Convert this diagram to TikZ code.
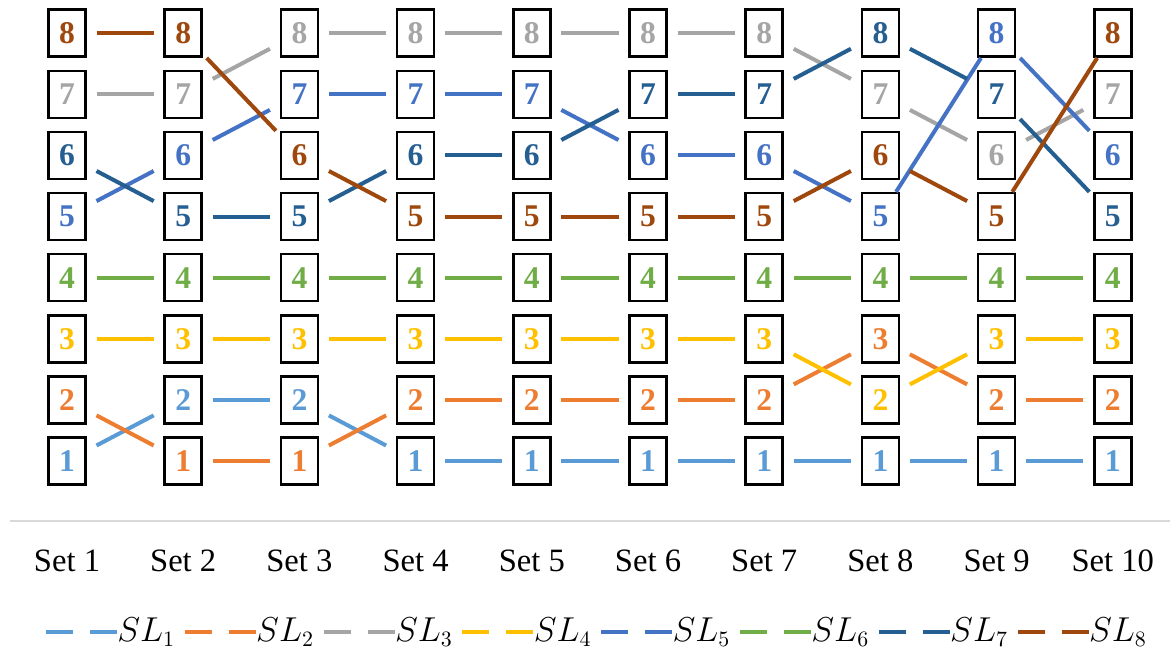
\documentclass[tikz,border=0pt]{standalone}
\usepackage{fontspec}
\setmainfont{Liberation Serif}

\definecolor{sl1}{HTML}{5B9BD5}
\definecolor{sl2}{HTML}{ED7D31}
\definecolor{sl3}{HTML}{A5A5A5}
\definecolor{sl4}{HTML}{FFC000}
\definecolor{sl5}{HTML}{4472C4}
\definecolor{sl6}{HTML}{70AD47}
\definecolor{sl7}{HTML}{255E91}
\definecolor{sl8}{HTML}{9E480E}

\begin{document}
\begin{tikzpicture}[x=0.5pt, y=-0.5pt,
    slbox/.style={draw, line width=1.3pt, fill=white, minimum width=18.5pt, minimum height=23.5pt,
        inner sep=0pt, outer xsep=5.5pt, outer ysep=0.6pt, font=\fontsize{15.8}{17}\selectfont\bfseries},
    link/.style={line width=2pt},
    setname/.style={anchor=base, font=\fontsize{16.3}{18}\selectfont},
    keyline/.style={line width=2pt, dash pattern=on 13.5pt off 8.5pt}]
    \useasboundingbox (0,0) rectangle (1176,656);

    % rank of each SL in Set 1 ... Set 10
    \foreach \k/\ranks in {1/{1,2,2,1,1,1,1,1,1,1}, 2/{2,1,1,2,2,2,2,3,2,2},
                           3/{7,7,8,8,8,8,8,7,6,7}, 4/{3,3,3,3,3,3,3,2,3,3},
                           5/{5,6,7,7,7,6,6,5,8,6}, 6/{4,4,4,4,4,4,4,4,4,4},
                           7/{6,5,5,6,6,7,7,8,7,5}, 8/{8,8,6,5,5,5,5,6,5,8}} {
        \foreach \r [count=\s, remember=\s as \prv (initially 0)] in \ranks {
            \node[slbox, text=sl\k] (sl\k-\s) at ({116.2*\s-49.2}, {522.1-61.1*\r}) {\r};
            \ifnum\s>1 \draw[link, sl\k] (sl\k-\prv) -- (sl\k-\s); \fi
        }
    }

    \draw[black!15, line width=0.8pt] (10,521) -- (1170,521); % axis

    \foreach \s in {1,...,10}
        \node[setname] (set\s) at ({116.2*\s-49.2}, 571) {Set \s};

    % legend
    \foreach \k in {1,...,8} {
        \coordinate (key\k) at ({46+138.8*(\k-1)}, 632);
        \node[anchor=west, inner sep=0pt, font=\fontsize{16}{18}\selectfont] (lab\k) at ({117+138.8*(\k-1)}, 632) {$SL_\k$};
        \draw[keyline, sl\k] (key\k) -- (lab\k.west);
    }
\end{tikzpicture}
\end{document}
